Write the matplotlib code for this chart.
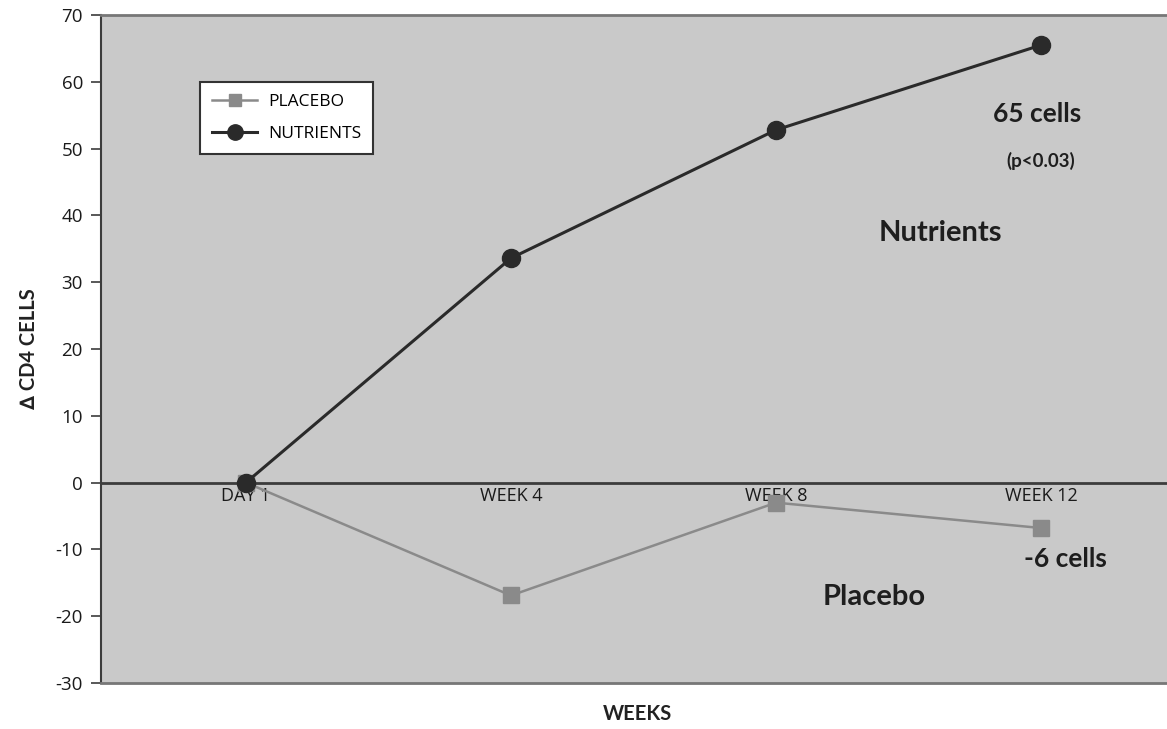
import matplotlib
matplotlib.use("Agg")
from matplotlib import pyplot as plt

plt.rcParams['font.family'] = ['Open Sans', 'DejaVu Sans']
plt.rcParams['axes.unicode_minus'] = False

timepoints = ["DAY 1", "WEEK 4", "WEEK 8", "WEEK 12"]
nutrients = [0, 33.6, 52.8, 65.5]
placebo = [0, -16.9, -3.0, -6.8]

x = list(range(len(timepoints)))
bold = ['Lato', 'DejaVu Sans']

fig = plt.figure(figsize=(11.67, 7.29), dpi=100)
ax = fig.add_axes([0.0865, 0.0631, 0.9135, 0.9163])
ax.set_facecolor("#c9c9c9")

ax.axhline(0, color="#3c3c3c", lw=2, zorder=1)
ax.plot(x, placebo, color="#8a8a8a", lw=1.8, marker="s", markersize=11,
        markerfacecolor="#8a8a8a", markeredgecolor="#8a8a8a", label="PLACEBO", zorder=2)
ax.plot(x, nutrients, color="#2a2a2a", lw=2.2, marker="o", markersize=13,
        markerfacecolor="#2a2a2a", markeredgecolor="#2a2a2a", label="NUTRIENTS", zorder=3)

ax.set_xlim(-0.547, 3.475)
ax.set_ylim(-30, 70)
ax.set_yticks(range(-30, 71, 10))
ax.tick_params(axis="y", labelsize=13.5, length=7, width=1.2, color="#3c3c3c",
               labelcolor="#1a1a1a", pad=6)
ax.set_xticks([])

# weeks labels sit just under the zero line
sec = ax.secondary_xaxis(0.3)
sec.set_xticks(x)
sec.set_xticklabels(timepoints)
sec.tick_params(length=0, labelsize=13, labelcolor="#1a1a1a", pad=3)
sec.spines["bottom"].set_visible(False)

for s in ["top", "bottom"]:
    ax.spines[s].set_color("#777777")
    ax.spines[s].set_linewidth(2)
ax.spines["left"].set_color("#3c3c3c")
ax.spines["left"].set_linewidth(1.5)
ax.spines["right"].set_visible(False)

ax.set_ylabel("\u2206 CD4 CELLS", fontsize=14.5, fontweight="bold", family=bold,
              color="#222222", labelpad=12)
fig.text(0.546, 0.012, "WEEKS", fontsize=14.5, fontweight="bold", family=bold,
         color="#222222", ha="center")

ax.text(2.985, 55.2, "65 cells", fontsize=19, fontweight="bold", family=bold,
        ha="center", va="center", color="#1e1e1e")
ax.text(3.0, 48.2, "(p<0.03)", fontsize=13.5, fontweight="bold", family=bold,
        ha="center", va="center", color="#1e1e1e")
ax.text(2.62, 37.4, "Nutrients", fontsize=21, fontweight="bold", family=bold,
        ha="center", va="center", color="#1e1e1e")
ax.text(2.37, -17.2, "Placebo", fontsize=21, fontweight="bold", family=bold,
        ha="center", va="center", color="#1e1e1e")
ax.text(3.09, -11.4, "-6 cells", fontsize=19, fontweight="bold", family=bold,
        ha="center", va="center", color="#1e1e1e")

leg = ax.legend(loc="upper left", bbox_to_anchor=(0.093, 0.9), borderaxespad=0,
                fontsize=12.5, frameon=True, fancybox=False, framealpha=1,
                edgecolor="#333333", handlelength=2.6, handletextpad=0.6,
                borderpad=0.7, labelspacing=0.9, markerscale=0.85)
leg.get_frame().set_linewidth(1.5)

plt.savefig("out.png", dpi=100)
plt.close()
